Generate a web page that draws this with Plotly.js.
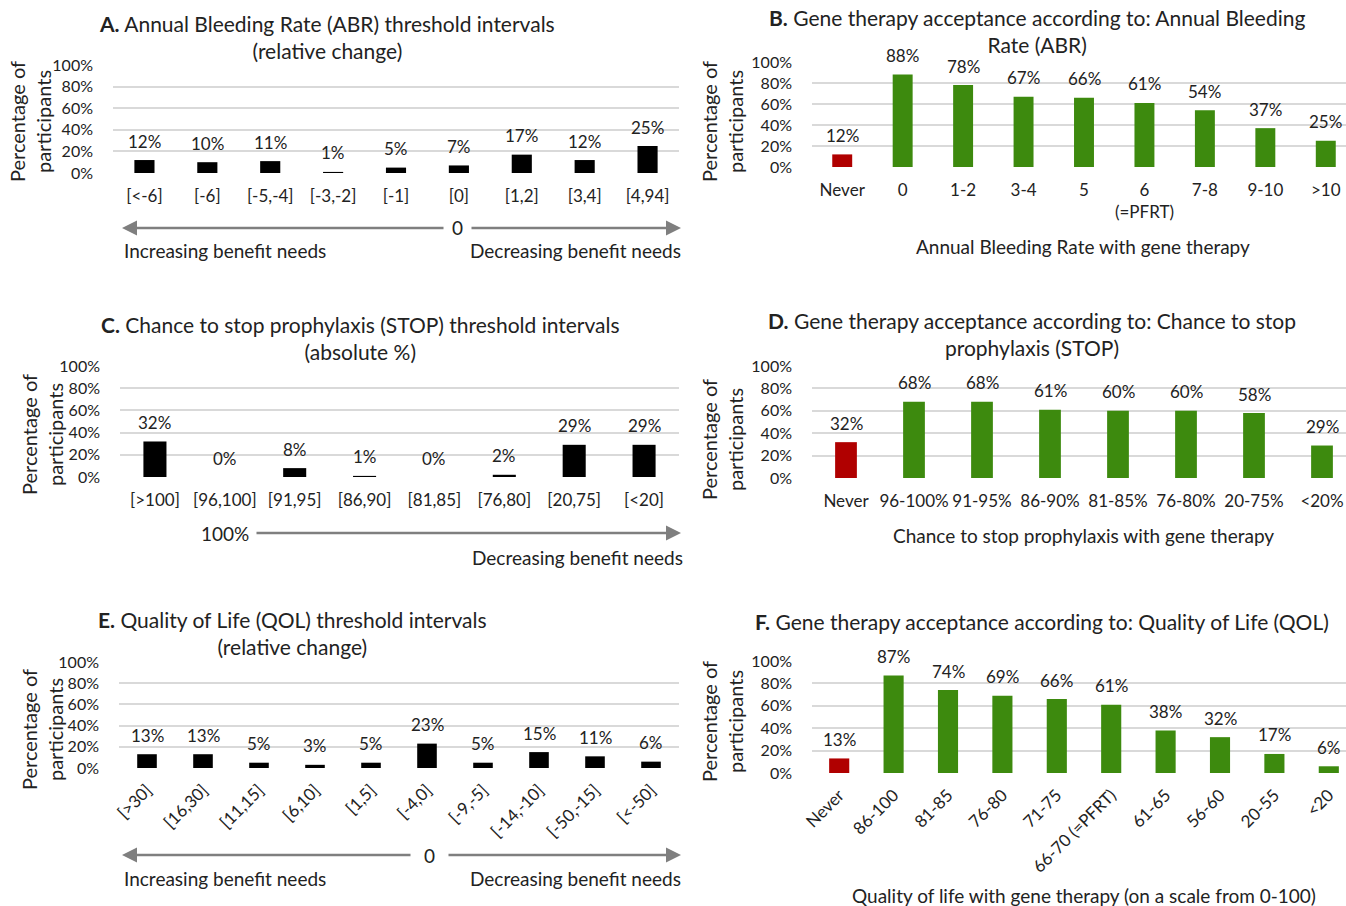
<!DOCTYPE html>
<html><head><meta charset="utf-8">
<script src="https://cdn.plot.ly/plotly-3.0.1.min.js"></script>
<style>html,body{margin:0;padding:0;background:#fff}#chart{width:1346px;height:906px}</style>
</head><body><div id="chart"></div>
<script>
// ---- data ----
const catsA = ['[<-6]','[-6]','[-5,-4]','[-3,-2]','[-1]','[0]','[1,2]','[3,4]','[4,94]'];
const valsA = [12,10,11,1,5,7,17,12,25];
const catsB = ['Never','0','1-2','3-4','5','6<br>(=PFRT)','7-8','9-10','>10'];
const valsB = [12,88,78,67,66,61,54,37,25];
const catsC = ['[>100]','[96,100]','[91,95]','[86,90]','[81,85]','[76,80]','[20,75]','[<20]'];
const valsC = [32,0,8,1,0,2,29,29];
const catsD = ['Never','96-100%','91-95%','86-90%','81-85%','76-80%','20-75%','<20%'];
const valsD = [32,68,68,61,60,60,58,29];
const catsE = ['[>30]','[16,30]','[11,15]','[6,10]','[1,5]','[-4,0]','[-9,-5]','[-14,-10]','[-50,-15]','[<-50]'];
const valsE = [13,13,5,3,5,23,5,15,11,6];
const catsF = ['Never','86-100','81-85','76-80','71-75','66-70 (=PFRT)','61-65','56-60','20-55','<20'];
const valsF = [13,87,74,69,66,61,38,32,17,6];
const yTicks = [0,20,40,60,80,100];

// ---- layout helpers ----
const W = 1346, H = 906;
const px = x => x / W, py = y => 1 - y / H;
const FONT = 'Lato, "Open Sans", sans-serif';
const GREEN = '#3d8a0e', RED = '#b00000', BLACK = '#000000';
const INK = '#222222';

const panels = [
  {cats: catsA, vals: valsA, x0: 113, x1: 679, y0: 173, y1: 65, extra: 0, width: 0.32, colors: () => BLACK, angle: 0},
  {cats: catsB, vals: valsB, x0: 812, x1: 1346, y0: 167, y1: 62, extra: 10, width: 0.33, colors: i => i === 0 ? RED : GREEN, angle: 0},
  {cats: catsC, vals: valsC, x0: 120, x1: 679, y0: 477, y1: 366, extra: 0, width: 0.33, colors: () => BLACK, angle: 0},
  {cats: catsD, vals: valsD, x0: 812, x1: 1346, y0: 478, y1: 366, extra: 10, width: 0.32, colors: i => i === 0 ? RED : GREEN, angle: 0},
  {cats: catsE, vals: valsE, x0: 119, x1: 679, y0: 768, y1: 662, extra: 0, width: 0.35, colors: () => BLACK, angle: -45},
  {cats: catsF, vals: valsF, x0: 812, x1: 1346, y0: 773, y1: 661, extra: 10, width: 0.37, colors: i => i === 0 ? RED : GREEN, angle: -45},
];

const data = [];
const layout = {
  width: W, height: H, margin: {l: 0, r: 0, t: 0, b: 0},
  paper_bgcolor: '#fff', plot_bgcolor: 'rgba(0,0,0,0)',
  showlegend: false, font: {family: FONT, size: 16, color: INK},
  annotations: [], shapes: []
};

panels.forEach((p, k) => {
  const n = p.cats.length;
  const idx = p.cats.map((_, i) => i);
  const sfx = k === 0 ? '' : String(k + 1);
  const span = p.x1 + p.extra - p.x0;
  const spacing = span / n;
  const rmax = n - 0.5 - p.extra / spacing;
  data.push({
    type: 'bar', x: idx, y: p.vals, width: p.width,
    xaxis: 'x' + sfx, yaxis: 'y' + sfx,
    marker: {color: idx.map(p.colors), line: {width: 0}},
    hoverinfo: 'skip'
  });
  layout['xaxis' + sfx] = {
    domain: [px(p.x0), px(p.x1)], range: [-0.5, rmax], anchor: 'y' + sfx,
    tickmode: 'array', tickvals: idx, ticktext: p.cats, tickangle: p.angle,
    showgrid: false, zeroline: false, showline: false, ticks: '',
    ticklabelstandoff: p.angle ? 8 : 11,
    tickfont: {family: FONT, size: 17, color: INK}, fixedrange: true
  };
  layout['yaxis' + sfx] = {
    domain: [py(p.y0), py(p.y1)], range: [0, 100], anchor: 'x' + sfx,
    tickmode: 'array', tickvals: yTicks, ticktext: yTicks.map(v => v + '%'),
    showgrid: true, gridcolor: '#d9d9d9', gridwidth: 2, zeroline: false, showline: false,
    ticks: '', ticklabelstandoff: 19,
    tickfont: {family: FONT, size: 16, color: INK}, fixedrange: true
  };
  p.vals.forEach((v, i) => {
    layout.annotations.push({
      x: i, y: v, xref: 'x' + sfx, yref: 'y' + sfx, text: v + '%', showarrow: false,
      xanchor: 'center', yanchor: 'middle',
      yshift: 19, font: {family: FONT, size: 17, color: INK}
    });
  });
});

function txt(x, y, text, opts) {
  layout.annotations.push(Object.assign({
    x: px(x), y: py(y), xref: 'paper', yref: 'paper', text: text, showarrow: false,
    xanchor: 'center', yanchor: 'middle',
    font: {family: FONT, size: 19, color: INK}
  }, opts || {}));
}
function arrow(xTail, xHead, y) {
  layout.annotations.push({
    x: px(xHead), y: py(y), xref: 'paper', yref: 'paper', text: '',
    showarrow: true, axref: 'pixel', ayref: 'pixel', ax: xTail - xHead, ay: 0,
    arrowhead: 2, arrowsize: 1.2, arrowwidth: 2.5, arrowcolor: '#7f7f7f'
  });
}
const TF = {family: FONT, size: 21, color: INK};

// panel titles
txt(327, 37, '<b>A.</b> Annual Bleeding Rate (ABR) threshold intervals<br>(relative change)', {font: TF});
txt(1037, 31, '<b>B.</b> Gene therapy acceptance according to: Annual Bleeding<br>Rate (ABR)', {font: TF});
txt(360, 338, '<b>C.</b> Chance to stop prophylaxis (STOP) threshold intervals<br>(absolute %)', {font: TF});
txt(1032, 334, '<b>D.</b> Gene therapy acceptance according to: Chance to stop<br>prophylaxis (STOP)', {font: TF});
txt(292, 633, '<b>E.</b> Quality of Life (QOL) threshold intervals<br>(relative change)', {font: TF});
txt(1042, 621, '<b>F.</b> Gene therapy acceptance according to: Quality of Life (QOL)', {font: TF});

// y-axis titles
const YT = {family: FONT, size: 20, color: INK};
[[30, 122], [722, 122], [42, 435], [722, 440], [42, 730], [722, 722]].forEach(([x, y]) =>
  txt(x, y, 'Percentage of<br>participants', {textangle: -90, font: YT}));

// x-axis titles (B, D, F)
txt(1083, 246, 'Annual Bleeding Rate with gene therapy');
txt(1083, 535, 'Chance to stop prophylaxis with gene therapy');
txt(1084, 895, 'Quality of life with gene therapy (on a scale from 0-100)');

// benefit arrows A
arrow(445, 122, 228); arrow(470, 681, 228); txt(457, 228, '0');
txt(122, 250, 'Increasing benefit needs', {xanchor: 'left'});
txt(683, 250, 'Decreasing benefit needs', {xanchor: 'right'});
// C
txt(225, 533, '100%'); arrow(255, 681, 533);
txt(685, 557, 'Decreasing benefit needs', {xanchor: 'right'});
// E
arrow(412, 122, 855); arrow(447, 681, 855); txt(430, 855, '0');
txt(122, 878, 'Increasing benefit needs', {xanchor: 'left'});
txt(683, 878, 'Decreasing benefit needs', {xanchor: 'right'});

Plotly.newPlot('chart', data, layout, {staticPlot: true, displayModeBar: false});
</script></body></html>
